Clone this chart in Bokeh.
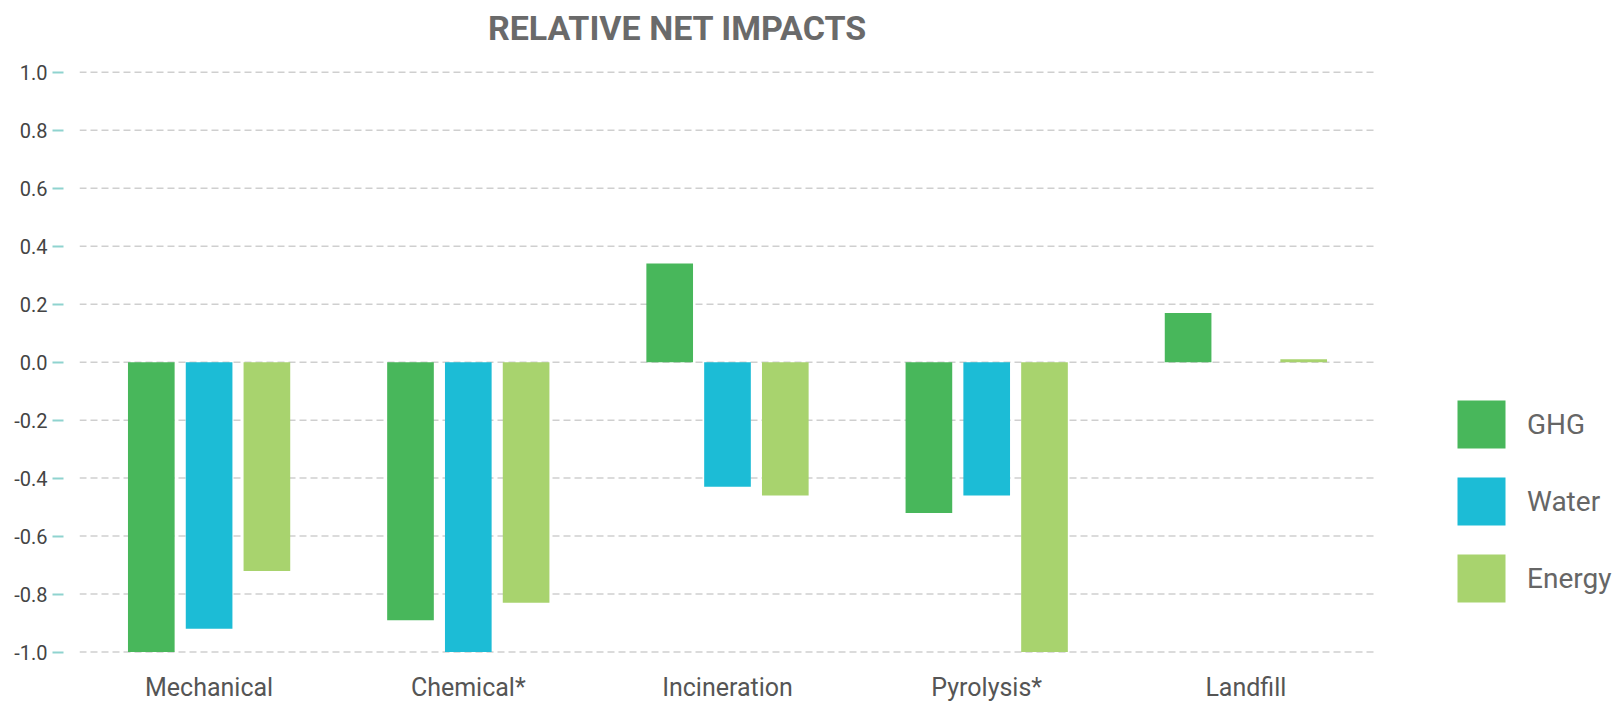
from bokeh.plotting import figure
from bokeh.models import ColumnDataSource, FixedTicker, Legend, LegendItem, Label
from bokeh.transform import dodge
from bokeh.embed import file_html
from bokeh.resources import INLINE

title_text = "RELATIVE NET IMPACTS"
categories = ["Mechanical", "Chemical*", "Incineration", "Pyrolysis*", "Landfill"]
ghg = [-1.0, -0.89, 0.34, -0.52, 0.17]
water = [-0.92, -1.0, -0.43, -0.46, 0.0]
energy = [-0.72, -0.83, -0.46, -1.0, 0.01]
y_ticks = [1.0, 0.8, 0.6, 0.4, 0.2, 0.0, -0.2, -0.4, -0.6, -0.8, -1.0]
y_tick_labels = ["1.0", "0.8", "0.6", "0.4", "0.2", "0.0", "-0.2", "-0.4", "-0.6", "-0.8", "-1.0"]
series_names = ["GHG", "Water", "Energy"]
colors = ["#48b75b", "#1cbcd6", "#a8d36e"]

FONT = "Roboto"

xpos = [i + 0.5 for i in range(len(categories))]
src = ColumnDataSource(dict(x=xpos, ghg=ghg, water=water, energy=energy))

# layout (pixels)
W, H = 1615, 704
LEFT, RIGHT_EDGE, BOTTOM = 79, 1375, 49
PLOT_TOP = 72                                   # where the value 1.0 sits
frame_h = H - BOTTOM
unit = (RIGHT_EDGE - LEFT) / len(categories)     # pixels per category
x_end = (W - LEFT) / unit                        # frame reaches the right edge (legend lives there)
y_start = -1.005
px_per_y = (frame_h - PLOT_TOP) / (1.0 - y_start)
y_end = 1.0 + PLOT_TOP / px_per_y                # frame reaches the top edge (title lives there)

p = figure(width=W, height=H, x_range=(0, x_end), y_range=(y_start, y_end),
           output_backend="svg", toolbar_location=None,
           min_border_left=LEFT, min_border_right=0, min_border_top=0, min_border_bottom=BOTTOM)

# dashed horizontal grid spanning only the category area
p.segment(x0=[0] * len(y_ticks), x1=[len(categories)] * len(y_ticks), y0=y_ticks, y1=y_ticks,
          line_color="#cfcfcf", line_dash="7 4", line_width=1.5)

offsets = [-0.223, 0.0, 0.223]
renderers = []
for key, off, col in zip(["ghg", "water", "energy"], offsets, colors):
    r = p.vbar(x=dodge("x", off), top=key, width=0.18, source=src,
               fill_color=col, line_color=None)
    renderers.append(r)

title = Label(x=677 - LEFT, y=frame_h - 29, x_units="screen", y_units="screen",
              text=title_text, text_align="center", text_baseline="alphabetic",
              text_font=FONT, text_font_size="34px", text_font_style="bold",
              text_color="#6a6a6a")
p.add_layout(title)

p.outline_line_color = None
p.background_fill_color = "white"
p.border_fill_color = "white"
p.xgrid.grid_line_color = None
p.ygrid.grid_line_color = None

p.yaxis.ticker = FixedTicker(ticks=y_ticks)
p.yaxis.major_label_overrides = {t: l for t, l in zip(y_ticks, y_tick_labels)}
p.yaxis.axis_line_color = None
p.yaxis.minor_tick_line_color = None
p.yaxis.major_tick_line_color = "#8fd3cf"
p.yaxis.major_tick_line_width = 2
p.yaxis.major_tick_in = -16
p.yaxis.major_tick_out = 27
p.yaxis.major_label_standoff = 5
p.yaxis.major_label_text_font = FONT
p.yaxis.major_label_text_font_size = "20px"
p.yaxis.major_label_text_color = "#444444"

p.xaxis.ticker = FixedTicker(ticks=xpos)
p.xaxis.major_label_overrides = {x: c for x, c in zip(xpos, categories)}
p.xaxis.axis_line_color = None
p.xaxis.major_tick_line_color = None
p.xaxis.minor_tick_line_color = None
p.xaxis.major_tick_out = 0
p.xaxis.major_tick_in = 0
p.xaxis.major_label_standoff = 19
p.xaxis.major_label_text_line_height = 1.0
p.xaxis.major_label_text_font = FONT
p.xaxis.major_label_text_font_size = "25px"
p.xaxis.major_label_text_color = "#555555"

lg = Legend(items=[LegendItem(label=n, renderers=[r]) for n, r in zip(series_names, renderers)],
            location=(1372, 45))
lg.glyph_width = 60
lg.glyph_height = 60
lg.spacing = 17
lg.label_standoff = 16
lg.padding = 0
lg.margin = 0
lg.border_line_color = None
lg.background_fill_alpha = 0
lg.label_text_font = FONT
lg.label_text_font_size = "28px"
lg.label_text_color = "#666666"
p.add_layout(lg)

open("out.html", "w").write(file_html(p, INLINE))
